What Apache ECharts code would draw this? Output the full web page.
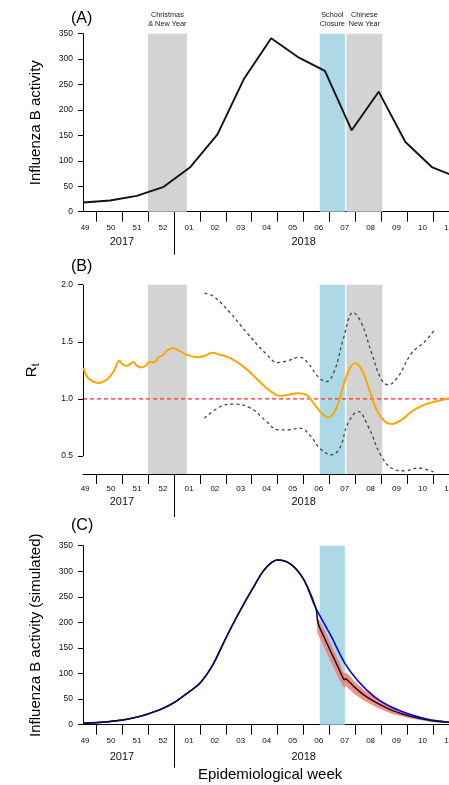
<!DOCTYPE html>
<html>
<head>
<meta charset="utf-8">
<script src="https://cdn.jsdelivr.net/npm/echarts@6/dist/echarts.min.js"></script>
<style>
  html, body { margin: 0; padding: 0; background: #fff; }
  #chart { width: 449px; height: 785px; }
</style>
</head>
<body>
<div id="chart"></div>
<script>
// ---- Week axis (week index 0 = week 49 of 2017) ----
const weekLabels = ['49', '50', '51', '52', '01', '02', '03', '04', '05', '06', '07', '08', '09', '10', '11'];
const weekLabelPos = [0.08, 1.08, 2.08, 3.08, 4.08, 5.08, 6.08, 7.08, 8.08, 9.08, 10.08, 11.08, 12.08, 13.08, 14.08];
const weekBoundaries = [0.5, 1.5, 2.5, 3.5, 4.5, 5.5, 6.5, 7.5, 8.5, 9.5, 10.5, 11.5, 12.5, 13.5];
const yearLabels = ['2017', '2018'];
const yearLabelPos = [1.5, 8.5];
const yearDivider = [3.5];

// ---- Shaded periods ----
const christmasPeriod = [2.5, 4.0];
const schoolClosure = [9.12, 10.09];
const chineseNewYear = [10.15, 11.53];

// ---- (A) Observed influenza B activity ----
const obsWeek = [0, 1.04, 2.07, 3.11, 4.14, 5.18, 6.21, 7.25, 8.28, 9.32, 10.35, 11.39, 12.42, 13.46, 14.49];
const obsActivity = [18, 22, 31, 49, 88, 152, 262, 341, 304, 277, 160, 236, 137, 87, 66];

// ---- (B) Time-varying reproduction number ----
const rtWeek = [0.02, 0.21, 0.6, 0.92, 1.18, 1.41, 1.5, 1.69, 1.95, 2.05, 2.24, 2.4, 2.57, 2.72, 2.92, 3.08, 3.26, 3.47, 3.69, 4.01, 4.4, 4.72, 4.94, 5.3, 5.68, 6.2, 6.58, 7.0, 7.25, 7.58, 7.9, 8.28, 8.61, 8.93, 9.22, 9.45, 9.76, 10.02, 10.28, 10.5, 10.73, 10.99, 11.31, 11.63, 11.89, 12.27, 12.66, 13.05, 13.43, 13.75, 14.1];
const rtMean = [1.27, 1.18, 1.14, 1.17, 1.24, 1.335, 1.306, 1.289, 1.324, 1.295, 1.274, 1.289, 1.324, 1.318, 1.365, 1.385, 1.429, 1.444, 1.423, 1.385, 1.365, 1.379, 1.403, 1.385, 1.356, 1.278, 1.201, 1.108, 1.064, 1.026, 1.035, 1.05, 1.035, 0.947, 0.87, 0.836, 0.919, 1.108, 1.269, 1.313, 1.26, 1.108, 0.904, 0.801, 0.781, 0.816, 0.889, 0.939, 0.968, 0.985, 1.005];
const rtUpperWeek = [4.68, 5.04, 5.68, 6.33, 7.03, 7.51, 7.9, 8.35, 8.67, 9.05, 9.38, 9.7, 10.02, 10.41, 10.73, 11.12, 11.5, 11.76, 12.14, 12.66, 13.17, 13.56];
const rtUpper = [1.926, 1.896, 1.75, 1.575, 1.40, 1.318, 1.335, 1.365, 1.313, 1.195, 1.152, 1.254, 1.517, 1.756, 1.663, 1.40, 1.166, 1.123, 1.195, 1.40, 1.502, 1.61];
const rtLowerWeek = [4.68, 5.3, 5.81, 6.46, 7.03, 7.51, 7.9, 8.35, 8.73, 9.12, 9.57, 9.89, 10.21, 10.6, 10.99, 11.5, 11.95, 12.4, 12.92, 13.5];
const rtLower = [0.831, 0.933, 0.954, 0.919, 0.81, 0.729, 0.729, 0.743, 0.685, 0.568, 0.51, 0.568, 0.787, 0.889, 0.757, 0.495, 0.385, 0.37, 0.395, 0.36];
const rtThreshold = 1;
const rtTicks = [0.5, 1.0, 1.5, 2.0];

// ---- (C) Simulated activity ----
// common trajectory up to the start of school closure
const simPreWeek = [0, 0.5, 1, 1.5, 2, 2.5, 3, 3.5, 4, 4.5, 5, 5.5, 6, 6.5, 7, 7.5, 8, 8.5, 8.97];
const simPreActivity = [3, 4, 6, 9, 14, 21, 30, 43, 61, 81, 117, 169, 218, 263, 304, 322, 314, 284, 228];
// without school closure
const noClosureWeek = [9.54, 10.09, 10.57, 11.22, 11.86, 12.5, 13.4, 14.15];
const noClosureActivity = [175, 120, 87, 55, 35, 22, 9, 4.7];
// with school closure
const closureWeek = [9.06, 9.3, 9.6, 9.85, 10.02, 10.07, 10.12, 10.25, 10.45, 10.8, 11.3, 11.86, 12.5, 13.4, 14.15];
const closureActivity = [198, 170, 137, 110, 91, 88, 90, 84, 74, 59, 43, 29, 18, 8, 4.5];
// uncertainty band of the school-closure scenario
const bandWeek = [8.97, 9.03, 9.3, 9.6, 9.85, 10.02, 10.07, 10.12, 10.25, 10.45, 10.8, 11.3, 11.86, 12.5, 13.4, 14.15];
const bandLower = [228, 180, 150, 117, 91, 75, 72, 76, 70, 60, 48, 34, 22, 13.5, 5.5, 3];
const bandUpper = [228, 210, 186, 152, 125, 104, 101, 102, 97, 85, 69, 52, 35, 22, 11, 6];

// ---- styling ----
const FONT = '"Liberation Sans", Arial, Helvetica, sans-serif';
const X_MAX = 14.1;
const GRAY = '#D3D3D3';
const BLUE = '#ADD8E6';
const INK = '#111';

const pairs = (xs, ys) => xs.map((x, i) => [x, ys[i]]);

function weekAxis(gridIndex, labelMargin) {
  return {
    type: 'value', gridIndex, min: 0, max: X_MAX, position: 'bottom',
    axisLine: { show: true, onZero: false, lineStyle: { color: '#000', width: 1 } },
    axisTick: { show: true, customValues: weekBoundaries, length: 10, lineStyle: { color: '#000', width: 1 } },
    axisLabel: {
      show: true, customValues: weekLabelPos, margin: labelMargin,
      formatter: v => weekLabels[Math.round(v)],
      fontSize: 8, fontFamily: FONT, color: INK
    },
    splitLine: { show: false }
  };
}

// strip under each panel: the long year divider and the year labels
function yearAxis(gridIndex, labelMargin) {
  return {
    type: 'value', gridIndex, min: 0, max: X_MAX, position: 'top',
    axisLine: { show: false, onZero: false },
    axisTick: { show: true, inside: true, customValues: yearDivider, length: 43, lineStyle: { color: '#000', width: 1 } },
    axisLabel: {
      show: true, inside: true, customValues: yearLabelPos, margin: labelMargin,
      formatter: v => {
        let best = 0;
        yearLabelPos.forEach((p, i) => { if (Math.abs(p - v) < Math.abs(yearLabelPos[best] - v)) best = i; });
        return yearLabels[best];
      },
      fontSize: 11, fontFamily: FONT, color: INK
    },
    splitLine: { show: false }
  };
}

function activityAxis(gridIndex, name) {
  return {
    type: 'value', gridIndex, min: 0, max: 350, interval: 50,
    axisLine: { show: true, onZero: false, lineStyle: { color: '#000', width: 1 } },
    axisTick: { show: true, length: 5, lineStyle: { color: '#000' } },
    axisLabel: { fontSize: 8.5, fontFamily: FONT, color: INK, margin: 10 },
    splitLine: { show: false },
    name, nameLocation: 'middle', nameGap: 40, nameMoveOverlap: false,
    nameTextStyle: { fontSize: 15, fontFamily: FONT, color: '#000' }
  };
}

const hiddenY = gridIndex => ({ type: 'value', gridIndex, min: 0, max: 1, show: false });

const bandLabel = { show: true, position: 'top', distance: 5, fontSize: 7.3, lineHeight: 9, fontFamily: FONT, color: '#222' };

const gridBase = { left: 83, right: 0, containLabel: false, outerBoundsMode: 'none' };
const panelLetter = { fontSize: 16, fontWeight: 'normal', fontFamily: FONT, color: '#000' };

const option = {
  animation: false,
  backgroundColor: '#fff',
  title: [
    { text: '(A)', left: 66, top: 6, textStyle: panelLetter },
    { text: '(B)', left: 66, top: 254, textStyle: panelLetter },
    { text: '(C)', left: 66, top: 513, textStyle: panelLetter },
    { text: 'Epidemiological week', left: 193, top: 762, textStyle: { fontSize: 15, fontWeight: 'normal', fontFamily: FONT, color: '#000' } }
  ],
  grid: [
    Object.assign({ top: 33.7, height: 178 }, gridBase),
    Object.assign({ top: 211.7, height: 45 }, gridBase),
    Object.assign({ top: 284.7, height: 189.3 }, gridBase),
    Object.assign({ top: 474, height: 45 }, gridBase),
    Object.assign({ top: 545.7, height: 179 }, gridBase),
    Object.assign({ top: 724.7, height: 45 }, gridBase)
  ],
  xAxis: [
    weekAxis(0, 12), yearAxis(1, 25),
    weekAxis(2, 11), yearAxis(3, 22),
    weekAxis(4, 12), yearAxis(5, 27)
  ],
  yAxis: [
    activityAxis(0, 'Influenza B activity'),
    hiddenY(1),
    {
      type: 'value', gridIndex: 2, min: 0.342, max: 2.0,
      axisLine: { show: false, onZero: false },
      axisTick: { show: true, customValues: rtTicks, length: 5, lineStyle: { color: '#000' } },
      axisLabel: {
        show: true, customValues: rtTicks, formatter: v => v.toFixed(1),
        fontSize: 8.5, fontFamily: FONT, color: INK, margin: 10
      },
      splitLine: { show: false },
      name: '{r|R}{t|t}', nameLocation: 'middle', nameGap: 42, nameMoveOverlap: false,
      nameTextStyle: {
        fontFamily: FONT, color: '#000', padding: [0, 0, 0, 18],
        rich: {
          r: { fontSize: 15, fontFamily: FONT, color: '#000' },
          t: { fontSize: 10, fontFamily: FONT, color: '#000', padding: [8, 0, 0, 0] }
        }
      }
    },
    hiddenY(3),
    activityAxis(4, 'Influenza B activity (simulated)'),
    hiddenY(5)
  ],
  series: [
    // (A) observed activity with holiday / closure periods
    {
      type: 'line', xAxisIndex: 0, yAxisIndex: 0, z: 5,
      data: pairs(obsWeek, obsActivity),
      symbol: 'none', silent: true,
      lineStyle: { color: '#111', width: 1.9 },
      markArea: {
        silent: true,
        data: [
          [{ xAxis: christmasPeriod[0], name: 'Christmas\n& New Year', itemStyle: { color: GRAY }, label: bandLabel },
           { xAxis: christmasPeriod[1] }],
          [{ xAxis: schoolClosure[0], name: 'School\nClosure', itemStyle: { color: BLUE }, label: bandLabel },
           { xAxis: schoolClosure[1] }],
          [{ xAxis: chineseNewYear[0], name: 'Chinese\nNew Year', itemStyle: { color: GRAY }, label: bandLabel },
           { xAxis: chineseNewYear[1] }]
        ]
      }
    },
    // (B) Rt = 1 reference
    {
      type: 'line', xAxisIndex: 2, yAxisIndex: 2, z: 3,
      data: [[0, rtThreshold], [X_MAX, rtThreshold]],
      symbol: 'none', silent: true,
      lineStyle: { color: '#FF2A2A', width: 1.2, type: [4, 3] },
      markArea: {
        silent: true,
        data: [
          [{ xAxis: christmasPeriod[0], itemStyle: { color: GRAY } }, { xAxis: christmasPeriod[1] }],
          [{ xAxis: schoolClosure[0], itemStyle: { color: BLUE } }, { xAxis: schoolClosure[1] }],
          [{ xAxis: chineseNewYear[0], itemStyle: { color: GRAY } }, { xAxis: chineseNewYear[1] }]
        ]
      },
      // y-axis line drawn only over the labelled range
      markLine: {
        silent: true, symbol: 'none', label: { show: false },
        lineStyle: { color: '#000', width: 1, type: 'solid' },
        data: [[{ coord: [0, rtTicks[0]] }, { coord: [0, rtTicks[rtTicks.length - 1]] }]]
      }
    },
    // (B) Rt credible interval
    {
      type: 'line', xAxisIndex: 2, yAxisIndex: 2, z: 4,
      data: pairs(rtUpperWeek, rtUpper), smooth: 0.4,
      symbol: 'none', silent: true,
      lineStyle: { color: '#444', width: 1.3, type: [3, 3] }
    },
    {
      type: 'line', xAxisIndex: 2, yAxisIndex: 2, z: 4,
      data: pairs(rtLowerWeek, rtLower), smooth: 0.4,
      symbol: 'none', silent: true,
      lineStyle: { color: '#444', width: 1.3, type: [3, 3] }
    },
    // (B) Rt estimate
    {
      type: 'line', xAxisIndex: 2, yAxisIndex: 2, z: 5,
      data: pairs(rtWeek, rtMean), smooth: 0.4,
      symbol: 'none', silent: true,
      lineStyle: { color: '#FFA500', width: 2 }
    },
    // (C) uncertainty band of the school-closure scenario
    {
      type: 'custom', xAxisIndex: 4, yAxisIndex: 4, z: 3, silent: true,
      data: [0],
      renderItem: (params, api) => {
        const upper = bandWeek.map((w, i) => api.coord([w, bandUpper[i]]));
        const lower = bandWeek.map((w, i) => api.coord([w, bandLower[i]])).reverse();
        return {
          type: 'polygon',
          shape: { points: upper.concat(lower) },
          style: { fill: 'rgba(243, 125, 108, 0.85)' }
        };
      }
    },
    // (C) without school closure
    {
      type: 'line', xAxisIndex: 4, yAxisIndex: 4, z: 4,
      data: pairs(simPreWeek.concat(noClosureWeek), simPreActivity.concat(noClosureActivity)),
      smooth: 0.3, symbol: 'none', silent: true,
      lineStyle: { color: '#0000FF', width: 1.6 },
      markArea: {
        silent: true,
        data: [[{ xAxis: schoolClosure[0], itemStyle: { color: BLUE } }, { xAxis: schoolClosure[1] }]]
      }
    },
    // (C) with school closure
    {
      type: 'line', xAxisIndex: 4, yAxisIndex: 4, z: 5,
      data: pairs(simPreWeek.concat(closureWeek), simPreActivity.concat(closureActivity)),
      smooth: 0.3, symbol: 'none', silent: true,
      lineStyle: { color: '#10102a', width: 1.5 }
    }
  ]
};

const chart = echarts.init(document.getElementById('chart'), null, { renderer: 'canvas' });
chart.setOption(option);
</script>
</body>
</html>
